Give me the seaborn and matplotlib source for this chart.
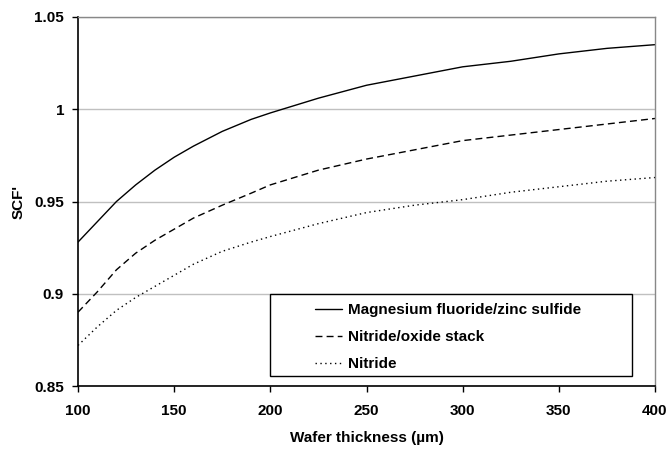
import matplotlib
matplotlib.use("Agg")
import matplotlib.pyplot as plt
from matplotlib.patches import Rectangle
import seaborn as sns
import pandas as pd

thickness = [100, 110, 120, 130, 140, 150, 160, 175, 190, 200, 225, 250, 275, 300, 325, 350, 375, 400]
mgf_zns = [0.928, 0.939, 0.950, 0.959, 0.967, 0.974, 0.980, 0.988, 0.9945, 0.998, 1.006, 1.013, 1.018, 1.023, 1.026, 1.030, 1.033, 1.035]
nitride_oxide = [0.890, 0.901, 0.913, 0.922, 0.929, 0.935, 0.941, 0.948, 0.9545, 0.959, 0.967, 0.973, 0.978, 0.983, 0.986, 0.989, 0.992, 0.995]
nitride = [0.872, 0.882, 0.891, 0.898, 0.904, 0.910, 0.916, 0.923, 0.928, 0.931, 0.938, 0.944, 0.948, 0.951, 0.955, 0.958, 0.961, 0.963]
series_names = ["Magnesium fluoride/zinc sulfide", "Nitride/oxide stack", "Nitride"]
x_ticks = [100, 150, 200, 250, 300, 350, 400]
y_ticks = [0.85, 0.9, 0.95, 1.0, 1.05]
y_ticklabels = ["0.85", "0.9", "0.95", "1", "1.05"]

sns.set_theme(style="white")
plt.rcParams["font.family"] = ["Liberation Sans", "DejaVu Sans"]
plt.rcParams["font.weight"] = "bold"
plt.rcParams["text.color"] = "black"
plt.rcParams["axes.labelcolor"] = "black"
plt.rcParams["xtick.color"] = "black"
plt.rcParams["ytick.color"] = "black"

fig = plt.figure(figsize=(6.67, 4.49), dpi=100)
ax = fig.add_axes([78/667, 1-386/449, 577/667, 369/449])

styles = [dict(linestyle="-"), dict(linestyle=(0, (5, 3))), dict(linestyle=(0, (1, 2.5)))]
for vals, name, st in zip([mgf_zns, nitride_oxide, nitride], series_names, styles):
    df = pd.DataFrame({"x": thickness, "y": vals})
    sns.lineplot(data=df, x="x", y="y", ax=ax, color="black", linewidth=1.0,
                 label=name, **st)

ax.set_xlim(100, 400)
ax.set_ylim(0.85, 1.05)
ax.set_xticks(x_ticks)
ax.set_yticks(y_ticks)
ax.set_yticklabels(y_ticklabels)
ax.yaxis.grid(True, color="#c0c0c0", linewidth=1.0)
ax.xaxis.grid(False)
ax.set_axisbelow(True)

for s in ["left", "bottom"]:
    ax.spines[s].set_color("black")
    ax.spines[s].set_linewidth(1.2)
for s in ["top", "right"]:
    ax.spines[s].set_color("#888888")
    ax.spines[s].set_linewidth(1.0)

ax.tick_params(axis="x", which="major", direction="out", length=4, width=1,
               color="black", labelsize=11, pad=9, bottom=True)
ax.tick_params(axis="y", which="major", direction="out", length=4, width=1,
               color="black", labelsize=11, pad=6, left=True)
for lab in ax.get_xticklabels() + ax.get_yticklabels():
    lab.set_fontweight("bold")

ax.set_xlabel("Wafer thickness (µm)", fontsize=11, fontweight="bold", labelpad=9)
ax.set_ylabel("SCF'", fontsize=11, fontweight="bold", labelpad=6)

# legend frame box
box = Rectangle((0.3328, 0.0271), 0.6274, 0.2222, transform=ax.transAxes,
                facecolor="white", edgecolor="black", linewidth=1.0, zorder=4)
ax.add_patch(box)

leg = ax.legend(loc="upper left", bbox_to_anchor=(0.4107, 0.225),
                frameon=False, fontsize=11,
                handlelength=1.75, handletextpad=0.4, labelspacing=0.85,
                borderpad=0, borderaxespad=0)
leg.set_zorder(5)
for t in leg.get_texts():
    t.set_fontweight("bold")

fig.savefig("out.png", dpi=100)
